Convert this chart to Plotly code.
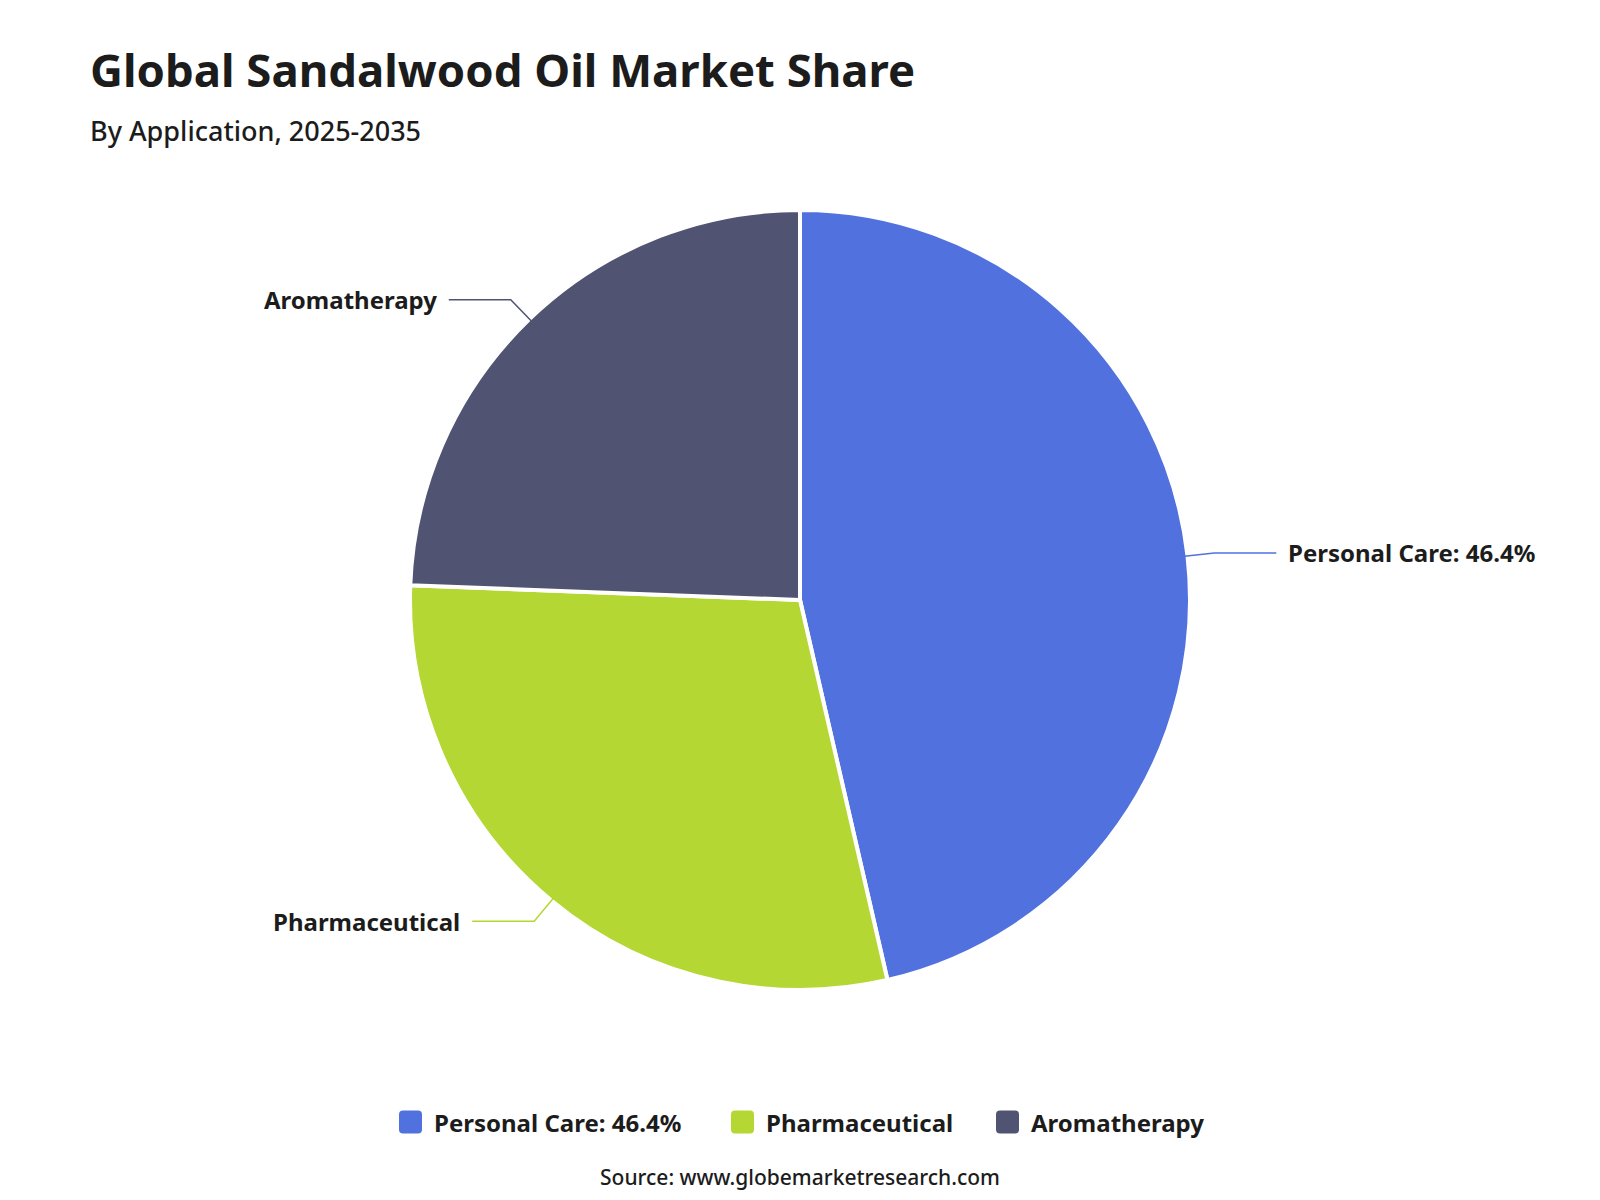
import math
import plotly.graph_objects as go

# ---------------- data ----------------
categories = ["Personal Care", "Pharmaceutical", "Aromatherapy"]
shares = [46.4, 29.2, 24.4]
slice_labels = ["Personal Care: 46.4%", "Pharmaceutical", "Aromatherapy"]
colors = ["#5171DF", "#B5D733", "#515373"]

title_text = "Global Sandalwood Oil Market Share"
subtitle_text = "By Application, 2025-2035"
source_text = "Source: www.globemarketresearch.com"

# ---------------- layout constants ----------------
W, H = 1600, 1200
CX, CY, R = 800, 600, 390
FONT = "Segoe UI, Noto Sans, Open Sans, sans-serif"
TXT = "#1c1c1c"


def px(x):
    return x / W


def py(y):
    return 1 - y / H


fig = go.Figure(
    go.Pie(
        labels=categories,
        values=shares,
        sort=False,
        direction="clockwise",
        rotation=0,
        marker=dict(colors=colors, line=dict(color="white", width=4)),
        textinfo="none",
        hoverinfo="label+percent",
        domain=dict(x=[px(CX - R), px(CX + R)], y=[py(CY + R), py(CY - R)]),
        showlegend=False,
    )
)

shapes = []
annotations = []

# connector lines + outside labels
total = sum(shares)
cum = 0.0
for lab, v, col in zip(slice_labels, shares, colors):
    theta = 2 * math.pi * (cum + v / 2) / total
    cum += v
    s, c = math.sin(theta), -math.cos(theta)
    ex, ey = CX + (R - 3) * s, CY + (R - 3) * c
    bx, by = CX + (R + 27) * s, CY + (R + 27) * c
    if s >= 0:
        hx = bx + 62
        tx, anchor = hx + 10, "left"
    else:
        hx = bx - 62
        tx, anchor = hx - 10, "right"
    shapes.append(
        dict(
            type="path",
            xref="paper",
            yref="paper",
            path=f"M {px(ex)} {py(ey)} L {px(bx)} {py(by)} L {px(hx)} {py(by)}",
            line=dict(color=col, width=1.5),
        )
    )
    annotations.append(
        dict(
            x=px(tx), y=py(by), xref="paper", yref="paper",
            xanchor=anchor, yanchor="middle", showarrow=False,
            text=f"<b>{lab}</b>",
            font=dict(family=FONT, size=24, color=TXT),
        )
    )

# title / subtitle
annotations.append(
    dict(x=px(88), y=py(69), xref="paper", yref="paper", xanchor="left", yanchor="middle",
         showarrow=False, text=f"<b>{title_text}</b>",
         font=dict(family=FONT, size=45.5, color=TXT))
)
annotations.append(
    dict(x=px(88), y=py(131), xref="paper", yref="paper", xanchor="left", yanchor="middle",
         showarrow=False, text=subtitle_text,
         font=dict(family=FONT, size=27, color=TXT, weight=500))
)

# custom legend
legend_x = [399, 731, 996]
LY = 1122
SQ = 23
for lab, col, lx in zip(slice_labels, colors, legend_x):
    x0, x1 = lx, lx + SQ
    y0, y1 = LY - SQ / 2, LY + SQ / 2
    r = 4
    path = (
        f"M {px(x0 + r)} {py(y0)} L {px(x1 - r)} {py(y0)} "
        f"Q {px(x1)} {py(y0)} {px(x1)} {py(y0 + r)} L {px(x1)} {py(y1 - r)} "
        f"Q {px(x1)} {py(y1)} {px(x1 - r)} {py(y1)} L {px(x0 + r)} {py(y1)} "
        f"Q {px(x0)} {py(y1)} {px(x0)} {py(y1 - r)} L {px(x0)} {py(y0 + r)} "
        f"Q {px(x0)} {py(y0)} {px(x0 + r)} {py(y0)} Z"
    )
    shapes.append(dict(type="path", xref="paper", yref="paper", path=path,
                       fillcolor=col, line=dict(width=0)))
    annotations.append(
        dict(x=px(lx + SQ + 10), y=py(LY), xref="paper", yref="paper",
             xanchor="left", yanchor="middle", showarrow=False,
             text=f"<b>{lab}</b>", font=dict(family=FONT, size=24, color=TXT))
    )

annotations.append(
    dict(x=px(800), y=py(1177), xref="paper", yref="paper", xanchor="center", yanchor="middle",
         showarrow=False, text=source_text,
         font=dict(family=FONT, size=21, color=TXT, weight=500))
)

fig.update_layout(
    width=W,
    height=H,
    margin=dict(l=0, r=0, t=0, b=0),
    paper_bgcolor="white",
    plot_bgcolor="white",
    shapes=shapes,
    annotations=annotations,
    showlegend=False,
)

fig.write_html("out.html", config={"displayModeBar": False})
